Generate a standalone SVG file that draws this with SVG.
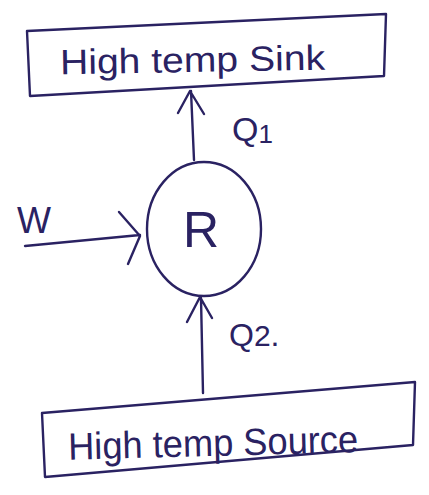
<svg xmlns="http://www.w3.org/2000/svg" width="429" height="495" viewBox="0 0 429 495">
  <style>
    .ink { fill: none; stroke: #2a2262; stroke-width: 2.4; stroke-linecap: round; stroke-linejoin: round; }
    .lbl { fill: #2a2262; font-family: "Liberation Sans", "DejaVu Sans", sans-serif; }
  </style>
  <rect width="429" height="495" fill="#ffffff"/>

  <!-- Upper reservoir -->
  <g id="sink">
    <polygon class="ink" points="27,31 386,14 384,76 30,96"/>
    <text class="lbl" x="60" y="72" font-size="35" textLength="265" lengthAdjust="spacingAndGlyphs" transform="rotate(-1 190 60)">High temp Sink</text>
  </g>

  <!-- Refrigerator -->
  <g id="refrigerator">
    <ellipse class="ink" cx="204" cy="229" rx="57" ry="67"/>
    <text class="lbl" x="201" y="247" font-size="50" text-anchor="middle">R</text>
  </g>

  <!-- Lower reservoir -->
  <g id="source">
    <polygon class="ink" points="42,413 415,382 413,445 45,477"/>
    <text class="lbl" x="68" y="456" font-size="38" textLength="290" lengthAdjust="spacingAndGlyphs" transform="rotate(-1.5 210 440)">High temp Source</text>
  </g>

  <!-- Connectors -->
  <g id="connectors">
    <!-- heat rejected to sink -->
    <path class="ink" d="M194,160 L191,91 M178,113 L190,91 L204,114"/>
    <!-- work input -->
    <path class="ink" d="M25,246 L140,235 M119,212 L140,236 L128,264"/>
    <!-- heat drawn from source -->
    <path class="ink" d="M203,393 L201,298 M187,322 L200,297 L212,318"/>
  </g>

  <!-- Labels on connectors -->
  <g id="labels">
    <text class="lbl" x="17" y="233" font-size="36">W</text>
    <text class="lbl" x="232" y="141" font-size="34">Q<tspan font-size="26" dy="2">1</tspan></text>
    <text class="lbl" x="229" y="346" font-size="32">Q<tspan font-size="30">2</tspan>.</text>
  </g>
</svg>
